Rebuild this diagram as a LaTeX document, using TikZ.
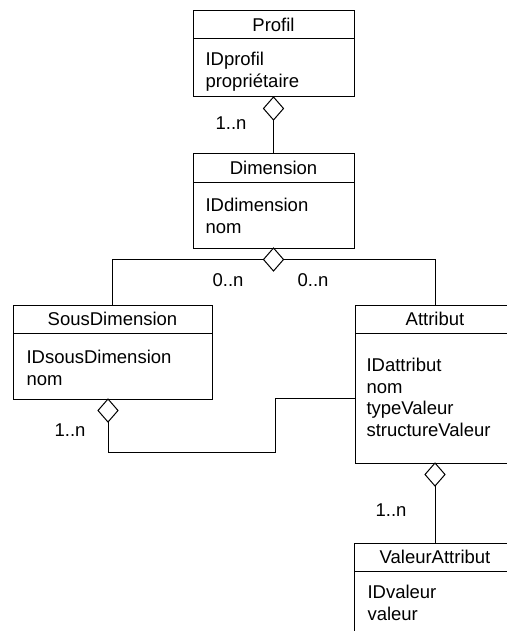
\documentclass[tikz,border=0pt]{standalone}
\usepackage{fontspec}
\setmainfont{Liberation Sans}
\usetikzlibrary{shapes.geometric}

\tikzset{
  every node/.style={font=\fontsize{18.5}{21.5}\selectfont},
  classtitle/.style={draw, line width=1pt, minimum height=28pt, inner sep=0pt, outer sep=0pt, anchor=north west},
  classbody/.style={draw, line width=1pt, inner sep=0pt, outer sep=0pt, anchor=north west},
  attrs/.style={anchor=north west, align=left, inner sep=0pt},
  agg/.style={draw, diamond, fill=white, line width=1pt, minimum width=20pt, minimum height=23pt, inner sep=0pt, outer sep=0pt, anchor=north},
  card/.style={inner sep=0pt}
}

\begin{document}
\begin{tikzpicture}[x=1pt,y=-1pt,line width=1pt]
\useasboundingbox (0,0) rectangle (506,631);
\node[classtitle, minimum width=161pt] (profil) at (193,11) {Profil};
\node[classbody, minimum width=161pt, minimum height=58pt] (profilbody) at (profil.south west) {};
\node[attrs] (profilattr) at (205,52) {IDprofil\\propriétaire};
\node[classtitle, minimum width=161pt] (dimension) at (193,154) {Dimension};
\node[classbody, minimum width=161pt, minimum height=66pt] (dimensionbody) at (dimension.south west) {};
\node[attrs] (dimensionattr) at (205,198) {IDdimension\\nom};
\node[classtitle, minimum width=199pt] (sousdim) at (13,305) {SousDimension};
\node[classbody, minimum width=199pt, minimum height=66pt] (sousdimbody) at (sousdim.south west) {};
\node[attrs] (sousdimattr) at (26,350) {IDsousDimension\\nom};
\node[classtitle, minimum width=160pt] (attribut) at (355,305) {Attribut};
\node[classbody, minimum width=160pt, minimum height=130pt] (attributbody) at (attribut.south west) {};
\node[attrs] (attributattr) at (366,358) {IDattribut\\nom\\typeValeur\\structureValeur};
\node[classtitle, minimum width=162pt] (valeur) at (354,543) {ValeurAttribut};
\node[classbody, minimum width=162pt, minimum height=90pt] (valeurbody) at (valeur.south west) {};
\node[attrs] (valeurattr) at (367,585) {IDvaleur\\valeur};
\node[agg] (d1) at (profilbody.south) {};
\node[agg] (d2) at (dimensionbody.south) {};
\node[agg] (d3) at (108,399) {};
\node[agg] (d4) at (attributbody.south) {};
\coordinate (bend) at (275,452);
\draw (d1.south) -- (dimension.north);
\draw (d2.west) -| (sousdim.north);
\draw (d2.east) -| (attribut.north);
\draw (d3.south) |- (bend) |- (attributbody.west);
\draw (d4.south) -- (valeur.north);
\node[card] (c1) at (231,123) {1..n};
\node[card] (c2) at (228,280) {0..n};
\node[card] (c3) at (313,280) {0..n};
\node[card] (c4) at (70,430) {1..n};
\node[card] (c5) at (391,510) {1..n};
\end{tikzpicture}
\end{document}
